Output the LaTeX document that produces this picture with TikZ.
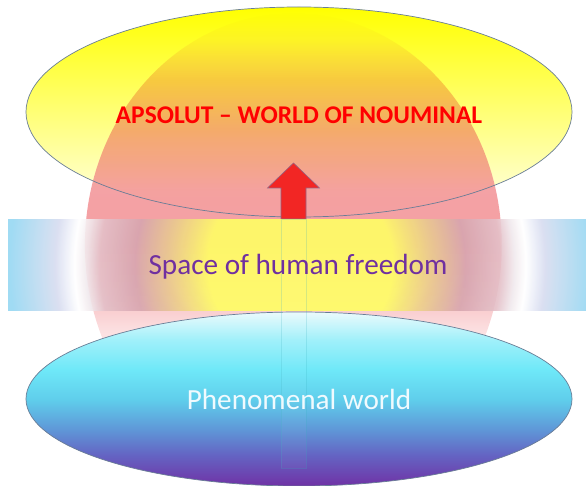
\documentclass[tikz,border=0pt]{standalone}
\usepackage{fontspec}
\setmainfont{Carlito}
\usetikzlibrary{fadings}
\definecolor{sunyellow}{RGB}{255,255,0}
\definecolor{cream}{RGB}{255,255,235}
\definecolor{rimline}{RGB}{105,125,150}
\definecolor{titlered}{RGB}{255,0,0}
\definecolor{arrowred}{RGB}{242,38,36}
\definecolor{arrowrim}{RGB}{150,100,130}
\definecolor{plum}{RGB}{112,48,160}
\definecolor{haloorange}{RGB}{240,150,45}
\definecolor{halosalmon}{RGB}{242,150,110}
\definecolor{halopink}{RGB}{243,150,155}
\definecolor{glowyellow}{RGB}{255,255,100}
\definecolor{bandtan}{RGB}{235,205,140}
\definecolor{bandmauve}{RGB}{215,165,175}
\definecolor{bandrose}{RGB}{228,192,200}
\definecolor{bandmist}{RGB}{240,232,236}
\definecolor{bandlilac}{RGB}{215,220,240}
\definecolor{bandblue}{RGB}{150,215,242}
\definecolor{phenwhite}{RGB}{235,250,252}
\definecolor{phenpale}{RGB}{160,240,250}
\definecolor{phencyan}{RGB}{110,232,248}
\definecolor{phensky}{RGB}{95,205,235}
\definecolor{phenblue}{RGB}{95,150,215}
\definecolor{phenindigo}{RGB}{100,100,195}
\definecolor{phenpurple}{RGB}{112,50,165}

% shadings: the box maps to 25bp..75bp
\pgfdeclareverticalshading{haloshade}{100bp}{color(0bp)=(halopink); color(25bp)=(halopink);
  color(55.9bp)=(halopink!97!halosalmon); color(61.3bp)=(halosalmon); color(67.8bp)=(haloorange);
  color(75bp)=(haloorange); color(100bp)=(haloorange)}
\pgfdeclareverticalshading{halofadeshade}{100bp}{color(0bp)=(black!92); color(25bp)=(black!92);
  color(35.5bp)=(black!88); color(40.8bp)=(black!70); color(44.1bp)=(black!45);
  color(50.5bp)=(black!10); color(54.9bp)=(black!10); color(62.4bp)=(black!20);
  color(67.8bp)=(black!50); color(72.1bp)=(black!90); color(75bp)=(black); color(100bp)=(black)}
\pgfdeclarefading{halofade}{\pgfuseshading{halofadeshade}}
\pgfdeclareradialshading{bandglow}{\pgfpoint{0bp}{0bp}}{color(0bp)=(glowyellow);
  color(7.7bp)=(glowyellow); color(10.8bp)=(bandtan); color(13.75bp)=(bandmauve);
  color(16.7bp)=(bandrose); color(17.8bp)=(bandmist); color(18.8bp)=(white);
  color(20.4bp)=(bandlilac); color(24.2bp)=(bandblue); color(25bp)=(bandblue); color(50bp)=(bandblue)}
\pgfdeclareverticalshading{phenshade}{100bp}{color(0bp)=(phenpurple); color(25bp)=(phenpurple);
  color(33.9bp)=(phenindigo); color(41.1bp)=(phenblue); color(49.7bp)=(phensky);
  color(58.3bp)=(phencyan); color(67bp)=(phenpale); color(75bp)=(phenwhite); color(100bp)=(phenwhite)}

\tikzset{
  rim/.style={draw=rimline,line width=0.7pt},
  title/.style={anchor=base,font=\fontsize{25.5}{30}\selectfont\bfseries,text=titlered},
  caption/.style={anchor=base,font=\fontsize{29.2}{34}\selectfont,text=#1},
  caption/.default=plum,
  blockarrow/.style={fill=arrowred,draw=arrowrim,line width=0.6pt,line join=miter},
  shaftghost/.style={draw=rimline!60!cyan,draw opacity=0.22,fill=white,fill opacity=0.03,line width=0.6pt},
}

\begin{document}
\begin{tikzpicture}[x=1pt,y=-1pt]
  \useasboundingbox (0,0) rectangle (586,486);
  % world of nouminal
  \shade[top color=sunyellow,bottom color=cream] (299,112) ellipse [x radius=273,y radius=105];
  % the red glow behind
  \shade[shading=haloshade,path fading=halofade] (293.5,245) ellipse [x radius=208.5,y radius=232];
  \draw[rim] (299,112) ellipse [x radius=273,y radius=105];
  \draw[blockarrow] (293.5,163) -- (319.5,188) -- (306,188) -- (306,219)
    -- (281,219) -- (281,188) -- (267.5,188) -- cycle;
  % band of freedom
  \begin{scope}
    \clip (8,220) rectangle (586,310);
    \shade[shading=bandglow,opacity=0.9] (300,265) circle (300);
  \end{scope}
  % phenomenal world
  \shade[shading=phenshade] (299,399) ellipse [x radius=273,y radius=87];
  \draw[rim] (299,399) ellipse [x radius=273,y radius=87];
  \draw[shaftghost] (281,219) rectangle (306,468);
  \node[title] (nouminal) at (299,124) {APSOLUT – WORLD OF NOUMINAL};
  \node[caption] (freedom) at (298,275) {Space of human freedom};
  \node[caption=white!94!cyan] (phenomenal) at (299,409) {Phenomenal world};
\end{tikzpicture}
\end{document}
